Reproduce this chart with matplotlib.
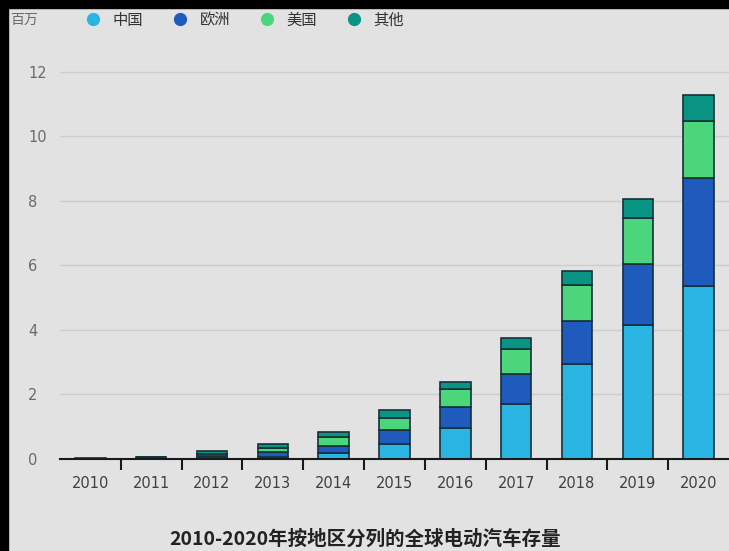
import numpy as np
import matplotlib.pyplot as plt
from matplotlib.lines import Line2D
from matplotlib.patches import Rectangle

plt.rcParams['font.family'] = ['Noto Sans CJK SC', 'DejaVu Sans']

years = ['2010', '2011', '2012', '2013', '2014', '2015', '2016', '2017', '2018', '2019', '2020']
# 百万辆, cumulative stock by region
china = [0.005, 0.01, 0.02, 0.05, 0.18, 0.47, 0.95, 1.71, 2.94, 4.15, 5.36]
europe = [0.005, 0.02, 0.06, 0.16, 0.23, 0.43, 0.65, 0.93, 1.34, 1.89, 3.35]
usa = [0.005, 0.02, 0.08, 0.12, 0.26, 0.38, 0.56, 0.76, 1.12, 1.43, 1.77]
other = [0.005, 0.02, 0.09, 0.12, 0.16, 0.23, 0.22, 0.34, 0.44, 0.58, 0.81]

names = ['中国', '欧洲', '美国', '其他']
colors = ['#2ab4e2', '#1f5bbd', '#4cd67b', '#0a9483']
bg = '#e2e2e2'

fig = plt.figure(figsize=(7.29, 5.51), dpi=100, facecolor=bg)
ax = fig.add_axes([60 / 729, 92 / 551, 1 - 60 / 729, 409.6 / 551])
ax.set_facecolor(bg)

x = np.arange(len(years))
bottom = np.zeros(len(years))
for vals, c in zip([china, europe, usa, other], colors):
    vals = np.array(vals)
    ax.bar(x, vals, 0.5, bottom=bottom, color=c, edgecolor='#17303a', linewidth=1.2, zorder=3)
    bottom += vals

ax.set_xlim(-0.5, 10.5)
ax.set_ylim(0, 12.7)
ax.set_yticks([0, 2, 4, 6, 8, 10, 12])
ax.yaxis.grid(True, color='#cdcdcd', linewidth=1, zorder=0)
ax.tick_params(axis='y', length=0, pad=23, labelsize=10.5, labelcolor='#6a6a6a')
for lab in ax.get_yticklabels():
    lab.set_horizontalalignment('left')
    lab.set_family('DejaVu Sans')

ax.set_xticks(x)
ax.set_xticklabels(years)
ax.set_xticks(x[:-1] + 0.5, minor=True)
ax.tick_params(axis='x', which='major', length=0, pad=12, labelsize=10.5, labelcolor='#404040')
ax.tick_params(axis='x', which='minor', length=8, width=1.5, color='#1a1a1a', direction='out')
for lab in ax.get_xticklabels():
    lab.set_family('DejaVu Sans')

for s in ['left', 'right', 'top']:
    ax.spines[s].set_visible(False)
ax.spines['bottom'].set_linewidth(1.5)
ax.spines['bottom'].set_color('#1a1a1a')
ax.spines['bottom'].set_zorder(4)

fig.text(10 / 729, 1 - 20 / 551, '百万', fontsize=10, color='#6a6a6a', va='center', ha='left')

handles = [Line2D([], [], marker='o', linestyle='', color=c, markersize=8.5) for c in colors]
fig.legend(handles, names, loc='center left', bbox_to_anchor=(85 / 729, 1 - 20 / 551),
           ncol=4, frameon=False, fontsize=11, handlelength=1.0, handletextpad=0.8,
           columnspacing=1.9, borderpad=0, borderaxespad=0, labelcolor='#333333')

fig.text(365 / 729, 1 - 539 / 551, '2010-2020年按地区分列的全球电动汽车存量',
         fontsize=14, color='#222222', ha='center', va='center', fontweight='bold')

# black screen border at top and left
fig.patches.append(Rectangle((0, 1 - 8 / 551), 1, 8 / 551, transform=fig.transFigure,
                             color='black', zorder=10))
fig.patches.append(Rectangle((0, 0), 8 / 729, 1, transform=fig.transFigure,
                             color='black', zorder=10))

fig.savefig('out.png', dpi=100, facecolor=bg)
